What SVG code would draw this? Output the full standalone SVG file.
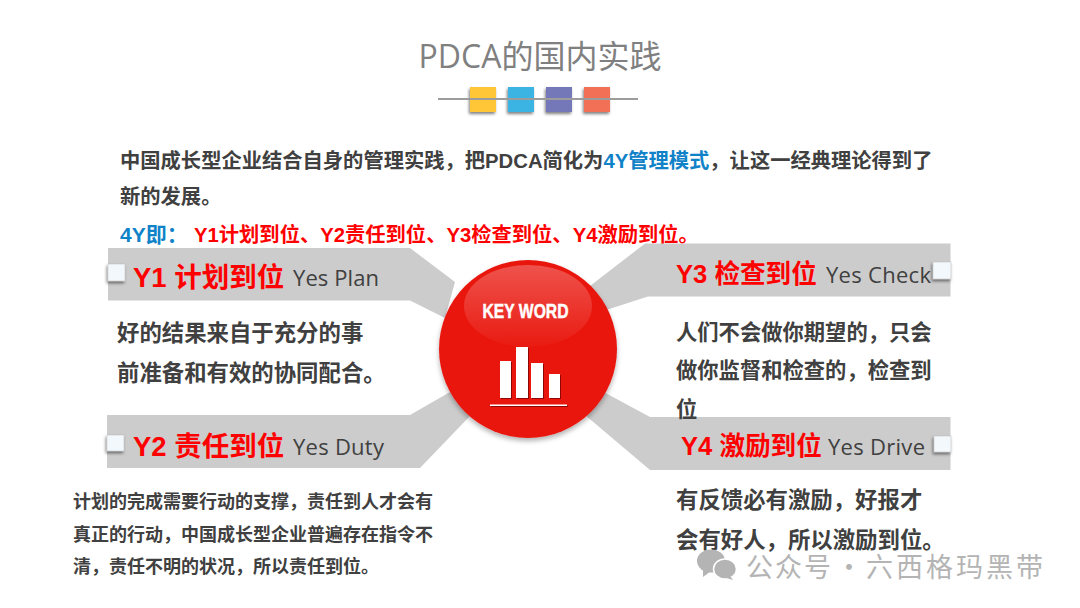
<svg xmlns="http://www.w3.org/2000/svg" width="1080" height="608" viewBox="0 0 1080 608">
<defs>
<filter id="sh" x="-30%" y="-30%" width="170%" height="170%"><feDropShadow dx="-1" dy="2" stdDeviation="1.5" flood-color="#000" flood-opacity="0.5"/></filter>
<filter id="sh2" x="-20%" y="-20%" width="140%" height="140%"><feDropShadow dx="0" dy="3" stdDeviation="2.5" flood-color="#000" flood-opacity="0.3"/></filter>
<filter id="sh3" x="-30%" y="-30%" width="170%" height="170%"><feDropShadow dx="1" dy="1" stdDeviation="0.6" flood-color="#600" flood-opacity="0.7"/></filter>
<linearGradient id="gl" x1="0" y1="0" x2="0" y2="1"><stop offset="0" stop-color="#fff" stop-opacity="0.26"/><stop offset="1" stop-color="#fff" stop-opacity="0.02"/></linearGradient>
</defs>
<style>
text{font-family:"Liberation Sans","Noto Sans CJK SC",sans-serif}
.b{font-weight:700;fill:#404040}
.r{font-weight:700;fill:#ff0000}
.c{font-weight:700;fill:#0f82c8}
.en{font-family:"Open Sans","Noto Sans",sans-serif;font-size:22px;font-weight:400;fill:#404040}
.band{fill:#cccccc}
.sq{fill:#f3f8fc;stroke:#bbb;stroke-width:.5;filter:url(#sh)}
.h1{font-size:27.500px}
.h2{font-size:25.600px}
.t{font-size:22.400px}
.t2{font-size:21.300px}
.s{font-size:18px}
.i{font-size:20.300px}
.w{font-family:"Noto Sans CJK SC",sans-serif;font-size:27px;fill:#b4b4b4}
</style>
<rect width="1080" height="608" fill="#fff"/>
<g id="title">
<text x="540" y="68" text-anchor="middle" font-size="32" fill="#808080" textLength="243" style="font-family:'Open Sans','Noto Sans CJK SC',sans-serif">PDCA的国内实践</text>
<g filter="url(#sh)">
<rect x="470" y="87" width="26" height="25" fill="#ffc738"/>
<rect x="508" y="87" width="26" height="25" fill="#3bb4e3"/>
<rect x="546" y="87" width="26" height="25" fill="#7478b8"/>
<rect x="584" y="87" width="26" height="25" fill="#f26f54"/>
</g>
<rect x="438" y="98" width="200" height="2" fill="#9c9c9c"/>
</g>
<g id="intro">
<text x="120" y="168" class="b i">中国成长型企业结合自身的管理实践，把PDCA简化为<tspan class="c">4Y管理模式</tspan>，让这一经典理论得到了</text>
<text x="120" y="204" class="b i">新的发展。</text>
<text x="120" y="242" class="c" font-size="21">4Y即：</text>
<text x="194" y="242" class="r i">Y1计划到位、Y2责任到位、Y3检查到位、Y4激励到位。</text>
</g>
<g id="connectors">
<polygon class="band" points="108,248 410,248 455,282 445,318 410,300.5 108,300.5"/>
<polygon class="band" points="950.5,243.5 645,243.5 590,286 600,312 648,296.5 950.5,296.5"/>
<polygon class="band" points="107,415 410,415 450,392 470,416 420,468 107,468"/>
<polygon class="band" points="950.5,417 650,417 600,390 585,415 650,470 950.5,470"/>
</g>
<g id="y1">
<rect class="sq" x="108" y="264" width="17" height="17"/>
<text x="133" y="287" class="r h1">Y1 计划到位</text>
<text x="293" y="286" class="en" textLength="86">Yes Plan</text>
<text x="117" y="341" class="b t">好的结果来自于充分的事</text>
<text x="117" y="381" class="b t">前准备和有效的协同配合。</text>
</g>
<g id="y2">
<rect class="sq" x="107" y="435" width="17" height="16"/>
<text x="133" y="456" class="r h1">Y2 责任到位</text>
<text x="293" y="455" class="en" textLength="91">Yes Duty</text>
<text x="73" y="508" class="b s">计划的完成需要行动的支撑，责任到人才会有</text>
<text x="73" y="541" class="b s">真正的行动，中国成长型企业普遍存在指令不</text>
<text x="73" y="573" class="b s">清，责任不明的状况，所以责任到位。</text>
</g>
<g id="y3">
<rect class="sq" x="933" y="262" width="18" height="17"/>
<text x="676" y="283" class="r h2">Y3 检查到位</text>
<text x="826" y="283" class="en" textLength="105">Yes Check</text>
<text x="676" y="340" class="b t2">人们不会做你期望的，只会</text>
<text x="676" y="378" class="b t2">做你监督和检查的，检查到</text>
<text x="676" y="417" class="b t2">位</text>
</g>
<g id="y4">
<rect class="sq" x="934" y="436" width="17" height="16"/>
<text x="681" y="455" class="r h2">Y4 激励到位</text>
<text x="828" y="455" class="en" textLength="97">Yes Drive</text>
<text x="676" y="508" class="b t">有反馈必有激励，好报才</text>
<text x="676" y="548" class="b t">会有好人，所以激励到位。</text>
</g>
<g id="keyword">
<circle cx="528" cy="349" r="89" fill="#e9190f" filter="url(#sh2)"/>
<ellipse cx="528" cy="306" rx="64" ry="41" fill="url(#gl)"/>
<text x="525.500" y="318" text-anchor="middle" font-size="21" font-weight="700" fill="#fff" stroke="#fff" stroke-width=".5" textLength="86" lengthAdjust="spacingAndGlyphs">KEY WORD</text>
<g fill="#fff" filter="url(#sh3)">
<rect x="500" y="361" width="11" height="37"/>
<rect x="516" y="347" width="12" height="51"/>
<rect x="531" y="363" width="12" height="35"/>
<rect x="549" y="374" width="11" height="24"/>
<rect x="490" y="404.500" width="77" height="1.500"/>
</g>
</g>
<g id="watermark">
<ellipse cx="711" cy="561" rx="14" ry="11.500" fill="#b4b4b4"/>
<polygon points="703,569 703,577 711,571" fill="#b4b4b4"/>
<ellipse cx="725" cy="569" rx="11.500" ry="10" fill="#b4b4b4" stroke="#fff" stroke-width="1.500"/>
<polygon points="730,576 733,580 723,577" fill="#b4b4b4"/>
<text x="746" y="577" class="w" letter-spacing="2">公众号</text>
<text x="849" y="577" class="w" text-anchor="middle">·</text>
<text x="866" y="577" class="w" letter-spacing="3">六西格玛黑带</text>
</g>
</svg>
